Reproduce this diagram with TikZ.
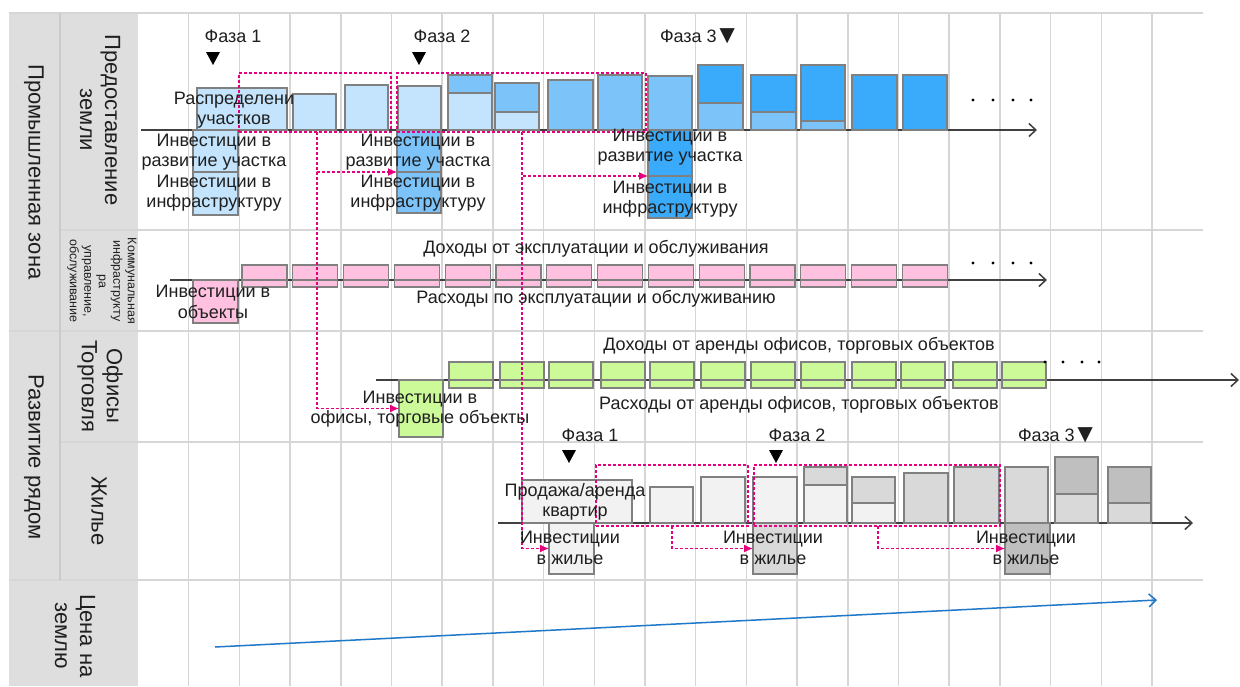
\documentclass[tikz,border=0pt]{standalone}
\usepackage{fontspec}
\setmainfont{Liberation Sans}
\usetikzlibrary{arrows.meta}
\definecolor{lb}{HTML}{C3E4FC}
\definecolor{mb}{HTML}{7CC3FA}
\definecolor{db}{HTML}{3AAAFB}
\definecolor{pk}{HTML}{FFC1DF}
\definecolor{gr}{HTML}{CCFA99}
\definecolor{lg}{HTML}{F2F2F2}
\definecolor{mg}{HTML}{D9D9D9}
\definecolor{dg}{HTML}{BFBFBF}
\definecolor{mag}{HTML}{E5007D}
\definecolor{gridc}{HTML}{D6D6D6}
\definecolor{hdr}{HTML}{DEDEDE}
\definecolor{hdrl}{HTML}{CACACA}
\definecolor{bord}{HTML}{808080}
\definecolor{lineblue}{HTML}{1F78C8}
\newcommand\rectnode[6]{\node[#1, anchor=north west, minimum width={(#5)-(#3)}, minimum height={(#6)-(#4)}] (#2) at (#3,#4) {};}
\newcommand\bigtri{\kern-2.5pt\raisebox{-1pt}{\fontsize{26}{26}\selectfont ▼}}
\begin{document}
\begin{tikzpicture}[x=1pt,y=-1pt,
  box/.style={draw=bord, line width=1.2pt, inner sep=0pt, outer sep=0pt},
  drect/.style={draw=mag, line width=1.2pt, dash pattern=on 3pt off 2pt, inner sep=0pt, outer sep=0pt},
  conn/.style={draw=mag, line width=1.2pt, dash pattern=on 3pt off 2pt, -{Latex[length=9pt,width=8pt]}},
  axisline/.style={draw=black!75, line width=1.5pt, -{Straight Barb[length=7pt,width=13pt]}},
  gridline/.style={draw=gridc, line width=1.5pt},
  lab/.style={font=\fontsize{18}{20.5}\selectfont, align=center, inner sep=0pt, text=black!88},
  hdrtxt/.style={font=\fontsize{22}{25}\selectfont, rotate=-90, align=center, inner sep=0pt, text=black!88},
  smalltxt/.style={font=\fontsize{12.5}{14.5}\selectfont, rotate=-90, align=center, inner sep=0pt, text=black!88},
  tri/.style={fill=black}
]
\useasboundingbox (0,0) rectangle (1240,686);
\fill[white] (0,0) rectangle (1240,686);
% header columns
\fill[hdr] (9,13) rectangle (138,686);
% grid
\foreach \k in {1,...,20}{\draw[gridline] ({138+50.7*\k},13) -- ({138+50.7*\k},686);}
\draw[gridline] (9,13) -- (1203,13);
\draw[gridline] (60,230) -- (1203,230);
\draw[gridline] (9,331) -- (1203,331);
\draw[gridline] (60,442) -- (1203,442);
\draw[gridline] (9,580) -- (1203,580);
\draw[draw=hdrl, line width=1.5pt] (60,13) -- (60,580);

% header labels
\node[hdrtxt] (hPZ) at (34,172) {Промышленная зона};
\node[hdrtxt] (hRR) at (34,457) {Развитие рядом};
\node[hdrtxt] (hPZem) at (100,120) {Предоставление\\земли};
\node[smalltxt] (hKI) at (102,281) {Коммунальная\\инфраструкту\\ра\\управление,\\обслуживание};
\node[hdrtxt] (hOT) at (100,386) {Офисы\\Торговля};
\node[hdrtxt] (hZh) at (99,511) {Жилье};
\node[hdrtxt] (hCZ) at (75,636) {Цена на\\землю};

% axes
\coordinate (a1s) at (141,130); \coordinate (a1e) at (1037,130);
\coordinate (a2s) at (170,280); \coordinate (a2e) at (1047,280);
\coordinate (a3s) at (376,380); \coordinate (a3e) at (1239,380);
\coordinate (a4s) at (498,523); \coordinate (a4e) at (1193,523);
\draw[axisline] (a1s) -- (a1e);
\draw[axisline] (a2s) -- (a2e);
\draw[axisline] (a3s) -- (a3e);
\draw[axisline] (a4s) -- (a4e);

% row 1 bars
\rectnode{box,fill=lb}{r1b1}{197}{88}{287}{130}
\rectnode{box,fill=lb}{r1b2}{293}{94}{336}{130}
\rectnode{box,fill=lb}{r1b3}{345}{85}{388}{130}
\rectnode{box,fill=lb}{r1b4}{398}{86}{441}{130}
\rectnode{box,fill=lb}{r1b5l}{448}{93}{492}{130}
\rectnode{box,fill=mb}{r1b5u}{448}{75}{492}{93}
\rectnode{box,fill=lb}{r1b6l}{495}{112}{539}{130}
\rectnode{box,fill=mb}{r1b6u}{495}{83}{539}{112}
\rectnode{box,fill=mb}{r1b7}{548}{80}{593}{130}
\rectnode{box,fill=mb}{r1b8}{598}{75}{642}{130}
\rectnode{box,fill=mb}{r1b9}{648}{76}{692}{130}
\rectnode{box,fill=mb}{r1b10l}{698}{103}{743}{130}
\rectnode{box,fill=db}{r1b10u}{698}{65}{743}{103}
\rectnode{box,fill=mb}{r1b11l}{751}{112}{796}{130}
\rectnode{box,fill=db}{r1b11u}{751}{75}{796}{112}
\rectnode{box,fill=mb}{r1b12l}{801}{121}{845}{130}
\rectnode{box,fill=db}{r1b12u}{801}{65}{845}{121}
\rectnode{box,fill=db}{r1b13}{852}{75}{897}{130}
\rectnode{box,fill=db}{r1b14}{903}{75}{947}{130}
% row 1 investment boxes
\rectnode{box,fill=lb}{i1u}{193}{130}{238}{172}
\rectnode{box,fill=lb}{i1l}{193}{172}{238}{215}
\rectnode{box,fill=mb}{i2u}{397}{130}{441}{172}
\rectnode{box,fill=mb}{i2l}{397}{172}{441}{213}
\rectnode{box,fill=db}{i3u}{648}{130}{692}{176}
\rectnode{box,fill=db}{i3l}{648}{176}{692}{218}

% row 2 bars
\foreach \i [evaluate=\i as \xx using 242+50.8*\i] in {0,...,13}{
  \rectnode{box,fill=pk}{pu\i}{\xx}{265}{\xx+45}{280}
  \rectnode{box,fill=pk}{pl\i}{\xx}{280}{\xx+45}{287}
}
\rectnode{box,fill=pk}{iK}{193}{280}{238}{323}

% row 3 bars
\foreach \xx [count=\i] in {449,500,549,601,650,701,751,801,852,901,953,1002}{
  \rectnode{box,fill=gr}{gu\i}{\xx}{362}{\xx+44}{380}
  \rectnode{box,fill=gr}{gl\i}{\xx}{380}{\xx+44}{388}
}
\rectnode{box,fill=gr}{invO}{399}{380}{443}{437}

% row 4 bars
\rectnode{box,fill=lg}{r4b1}{522}{480}{632}{523}
\rectnode{box,fill=lg}{r4b2}{650}{487}{693}{523}
\rectnode{box,fill=lg}{r4b3}{701}{477}{745}{523}
\rectnode{box,fill=lg}{r4b4}{753}{477}{797}{523}
\rectnode{box,fill=lg}{r4b5l}{804}{485}{847}{523}
\rectnode{box,fill=mg}{r4b5u}{804}{467}{847}{485}
\rectnode{box,fill=lg}{r4b6l}{852}{503}{895}{523}
\rectnode{box,fill=mg}{r4b6u}{852}{477}{895}{503}
\rectnode{box,fill=mg}{r4b7}{904}{473}{948}{523}
\rectnode{box,fill=mg}{r4b8}{954}{467}{999}{523}
\rectnode{box,fill=mg}{r4b9}{1005}{467}{1048}{523}
\rectnode{box,fill=mg}{r4b10l}{1055}{494}{1098}{523}
\rectnode{box,fill=dg}{r4b10u}{1055}{457}{1098}{494}
\rectnode{box,fill=mg}{r4b11l}{1108}{503}{1151}{523}
\rectnode{box,fill=dg}{r4b11u}{1108}{467}{1151}{503}
\rectnode{box,fill=lg}{h1}{549}{523}{594}{574}
\rectnode{box,fill=mg}{h2}{753}{523}{797}{574}
\rectnode{box,fill=dg}{h3}{1005}{523}{1050}{574}

% dashed phase rectangles
\rectnode{drect}{dA}{239}{73}{391}{132}
\rectnode{drect}{dB}{397}{73}{646}{132}
\rectnode{drect}{dC}{596}{465}{748}{526}
\rectnode{drect}{dD}{754}{465}{1000}{526}

% connectors
\coordinate (cA) at (317,0);
\coordinate (cB) at (522,0);
\coordinate (cC) at (672,0);
\coordinate (cD) at (878,0);
\draw[conn] (dA.south -| cA) |- (invO.west);
\draw[conn] (dA.south -| cA) |- (i2u.south west);
\draw[conn] (dB.south -| cB) |- (h1.west);
\draw[conn] (dB.south -| cB) |- (i3u.south west);
\draw[conn] (dC.south -| cC) |- (h2.west);
\draw[conn] (dD.south -| cD) |- (h3.west);

% land price line
\coordinate (p0) at (215,647); \coordinate (p1) at (1157,600);
\draw[draw=lineblue, line width=1.5pt, -{Straight Barb[length=7pt,width=13pt]}] (p0) -- (p1);

% dots
\foreach \xx in {973,993,1013,1031}{\fill (\xx,100) circle (1.6pt); \fill (\xx,263) circle (1.6pt);}
\foreach \xx in {1045,1063,1082,1099}{\fill (\xx,362) circle (1.6pt);}

% phase markers
\node[lab] (f1) at (233,36) {Фаза 1};
\node[lab] (f2) at (442,36) {Фаза 2};
\node[lab] (f3) at (700,36) {Фаза 3\bigtri};
\fill[tri] (206,52) -- (220,52) -- (213,65) -- cycle;
\fill[tri] (412,52) -- (426,52) -- (419,65) -- cycle;
\node[lab] (g1) at (590,435) {Фаза 1};
\node[lab] (g2) at (797,435) {Фаза 2};
\node[lab] (g3) at (1058,435) {Фаза 3\bigtri};
\fill[tri] (562,450) -- (576,450) -- (569,463) -- cycle;
\fill[tri] (769,450) -- (783,450) -- (776,463) -- cycle;

% texts
\node[lab] (tR) at (234,110) {Распределени\\участков};
\node[lab] (t1a) at (214,152) {Инвестиции в\\развитие участка};
\node[lab] (t1b) at (214,193) {Инвестиции в\\инфраструктуру};
\node[lab] (t2a) at (418,152) {Инвестиции в\\развитие участка};
\node[lab] (t2b) at (418,193) {Инвестиции в\\инфраструктуру};
\node[lab] (t3a) at (670,147) {Инвестиции в\\развитие участка};
\node[lab] (t3b) at (670,199) {Инвестиции в\\инфраструктуру};
\node[lab] (tDex) at (596,249) {Доходы от эксплуатации и обслуживания};
\node[lab] (tRex) at (596,299) {Расходы по эксплуатации и обслуживанию};
\node[lab] (tK) at (213,302) {Инвестиции в\\объекты};
\node[lab] (tDo) at (799,346) {Доходы от аренды офисов, торговых объектов};
\node[lab] (tRo) at (799,405) {Расходы от аренды офисов, торговых объектов};
\node[lab] (tO) at (420,409) {Инвестиции в\\офисы, торговые объекты};
\node[lab] (tH0) at (575,502) {Продажа/аренда\\квартир};
\node[lab] (tH1) at (570,548) {Инвестиции\\в жилье};
\node[lab] (tH2) at (773,548) {Инвестиции\\в жилье};
\node[lab] (tH3) at (1026,548) {Инвестиции\\в жилье};
\end{tikzpicture}
\end{document}
